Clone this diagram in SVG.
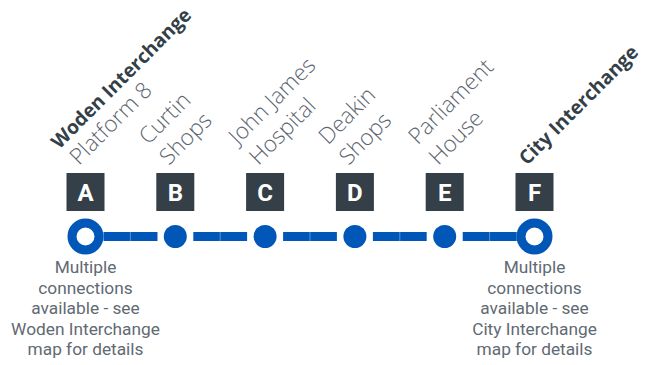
<svg xmlns="http://www.w3.org/2000/svg" width="645" height="365" viewBox="0 0 645 365">
<style>
.box{fill:#343f48}
.ltr{font-family:Roboto,"Liberation Sans",sans-serif;font-weight:700;font-size:24px;fill:#fff;text-anchor:middle}
.lbl{font-family:"Open Sans","Liberation Sans",sans-serif;font-weight:300;font-size:22.5px;fill:#5c6670}
.bold{font-family:"Open Sans","Liberation Sans",sans-serif;font-weight:700;font-size:19.3px;fill:#343f48}
.note{font-family:Roboto,"Liberation Sans",sans-serif;font-size:17.3px;fill:#5f6a72;text-anchor:middle}
.seg{fill:#0057b8}
.seam{stroke:#ffffff;stroke-opacity:0.35;stroke-width:1}
.dot{fill:#0057b8}
.ring{fill:#fff;stroke:#0057b8;stroke-width:9}
</style>
<rect width="645" height="365" fill="#fff"/>
<g id="connectors">
<rect class="seg" x="103.5" y="232" width="54" height="9"/>
<rect class="seg" x="193.3" y="232" width="53.8" height="9"/>
<rect class="seg" x="283.1" y="232" width="53.8" height="9"/>
<rect class="seg" x="372.9" y="232" width="53.8" height="9"/>
<rect class="seg" x="462.7" y="232" width="54" height="9"/>
<line class="seam" x1="130.4" y1="232" x2="130.4" y2="241"/>
<line class="seam" x1="220.2" y1="232" x2="220.2" y2="241"/>
<line class="seam" x1="310" y1="232" x2="310" y2="241"/>
<line class="seam" x1="399.8" y1="232" x2="399.8" y2="241"/>
<line class="seam" x1="489.6" y1="232" x2="489.6" y2="241"/>
</g>
<g id="station-A">
<g transform="translate(79,166) rotate(-45)">
<text class="bold" x="-2.5" y="-25.5">Woden Interchange</text>
<text class="lbl" x="0" y="0">Platform 8</text>
</g>
<rect class="box" x="66.5" y="173" width="38" height="38"/>
<text class="ltr" x="85.5" y="201">A</text>
<circle class="ring" cx="85.5" cy="236.5" r="13.5"/>
<text class="note" x="85.5" y="273">Multiple</text>
<text class="note" x="85.5" y="293.5">connections</text>
<text class="note" x="85.5" y="314">available - see</text>
<text class="note" x="85.5" y="334.5">Woden Interchange</text>
<text class="note" x="85.5" y="355">map for details</text>
</g>
<g id="station-B">
<g transform="translate(168.8,166) rotate(-45)">
<text class="lbl" x="0" y="-29">Curtin</text>
<text class="lbl" x="0" y="0">Shops</text>
</g>
<rect class="box" x="156.3" y="173" width="38" height="38"/>
<text class="ltr" x="175.3" y="201">B</text>
<circle class="dot" cx="175.3" cy="236.5" r="11.5"/>
</g>
<g id="station-C">
<g transform="translate(258.6,166) rotate(-45)">
<text class="lbl" x="0" y="-29">John James</text>
<text class="lbl" x="0" y="0">Hospital</text>
</g>
<rect class="box" x="246.1" y="173" width="38" height="38"/>
<text class="ltr" x="265.1" y="201">C</text>
<circle class="dot" cx="265.1" cy="236.5" r="11.5"/>
</g>
<g id="station-D">
<g transform="translate(348.4,166) rotate(-45)">
<text class="lbl" x="0" y="-29">Deakin</text>
<text class="lbl" x="0" y="0">Shops</text>
</g>
<rect class="box" x="335.9" y="173" width="38" height="38"/>
<text class="ltr" x="354.9" y="201">D</text>
<circle class="dot" cx="354.9" cy="236.5" r="11.5"/>
</g>
<g id="station-E">
<g transform="translate(438.2,166) rotate(-45)">
<text class="lbl" x="0" y="-29">Parliament</text>
<text class="lbl" x="0" y="0">House</text>
</g>
<rect class="box" x="425.7" y="173" width="38" height="38"/>
<text class="ltr" x="444.7" y="201">E</text>
<circle class="dot" cx="444.7" cy="236.5" r="11.5"/>
</g>
<g id="station-F">
<g transform="translate(527,166) rotate(-45)">
<text class="bold" x="0" y="0">City Interchange</text>
</g>
<rect class="box" x="515.5" y="173" width="38" height="38"/>
<text class="ltr" x="534.5" y="201">F</text>
<circle class="ring" cx="534.5" cy="236.5" r="13.5"/>
<text class="note" x="534.5" y="273">Multiple</text>
<text class="note" x="534.5" y="293.5">connections</text>
<text class="note" x="534.5" y="314">available - see</text>
<text class="note" x="534.5" y="334.5">City Interchange</text>
<text class="note" x="534.5" y="355">map for details</text>
</g>
</svg>
